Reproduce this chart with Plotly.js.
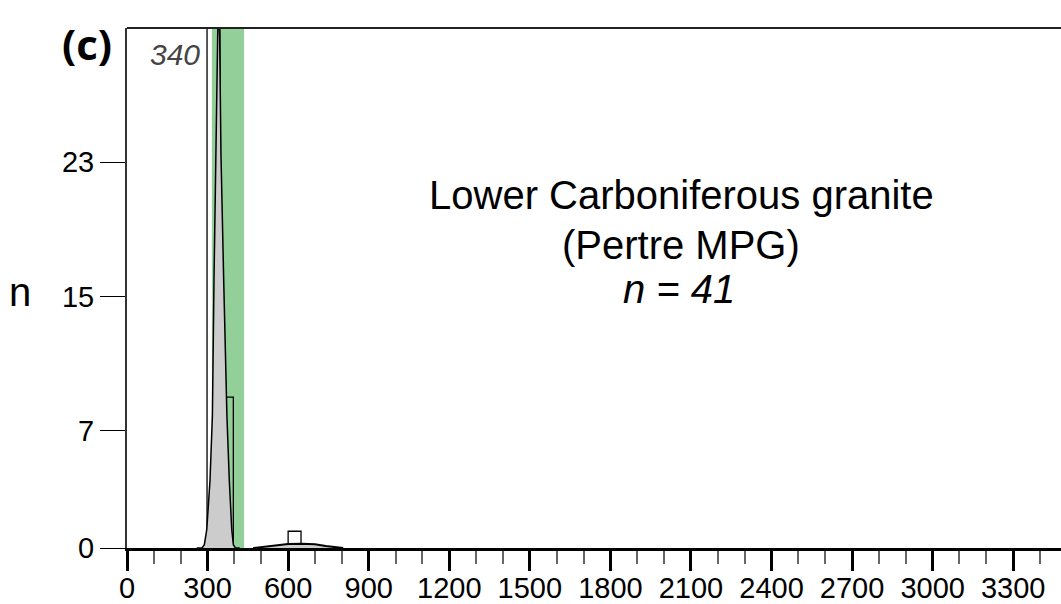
<!DOCTYPE html>
<html>
<head>
<meta charset="utf-8">
<script src="https://cdn.plot.ly/plotly-3.0.1.min.js"></script>
<style>html,body{margin:0;padding:0;background:#fff;}#chart{width:1061px;height:604px;}</style>
</head>
<body>
<div id="chart"></div>
<script>
// Histogram bins (Ma) and counts
const binCenters = [322, 372, 624];
const binCounts = [31, 9, 1];
const binWidth = 48;

// Kernel density curve (main peak)
const kdeX = [260, 280, 288, 297, 309, 318, 324, 331, 336, 340, 345, 350, 360, 372, 381, 390, 396, 403, 420];
const kdeY = [0, 0.02, 0.2, 1.1, 4.0, 7.9, 16, 23.4, 30.5, 33, 30.5, 23.4, 16, 7.9, 4.0, 1.1, 0.2, 0.02, 0];
// Secondary low bump
const kde2X = [470, 490, 520, 560, 600, 650, 700, 740, 780, 805];
const kde2Y = [0, 0.04, 0.1, 0.18, 0.24, 0.26, 0.22, 0.12, 0.04, 0];

// Highlighted age band
const bandStart = 316;
const bandEnd = 436;
const peakLabel = "340";

const xTickVals = [0, 300, 600, 900, 1200, 1500, 1800, 2100, 2400, 2700, 3000, 3300];
const yTickVals = [0, 7, 15, 23];

const W = 1061, H = 604;
const mL = 127, mR = 0, mT = 28, mB = 56;
const pw = W - mL - mR, ph = H - mT - mB;
const px = x => (x - mL) / pw;
const py = y => (H - mB - y) / ph;

const traces = [
  {
    x: kdeX, y: kdeY, type: 'scatter', mode: 'lines',
    fill: 'tozeroy', fillcolor: '#cccccc',
    line: {color: '#000', width: 1.5}, hoverinfo: 'skip', showlegend: false
  },
  {
    x: kde2X, y: kde2Y, type: 'scatter', mode: 'lines',
    fill: 'tozeroy', fillcolor: '#cccccc',
    line: {color: '#000', width: 2}, hoverinfo: 'skip', showlegend: false
  },
  {
    x: binCenters, y: binCounts, type: 'bar', width: binWidth,
    marker: {color: 'rgba(0,0,0,0)', line: {color: '#000', width: 1.3}},
    hoverinfo: 'skip', showlegend: false
  }
];

const layout = {
  width: W, height: H,
  margin: {l: mL, r: mR, t: mT, b: mB, pad: 0},
  paper_bgcolor: '#fff', plot_bgcolor: '#fff',
  font: {family: 'Liberation Sans, Arial, sans-serif', color: '#000'},
  xaxis: {
    range: [0, 3478], showgrid: false, zeroline: false,
    showline: true, linecolor: '#000', linewidth: 2.5,
    tickmode: 'array', tickvals: xTickVals,
    ticks: 'outside', ticklen: 20, tickwidth: 3, tickcolor: '#000',
    ticklabelstandoff: -7,
    tickfont: {size: 29, color: '#000'},
    minor: {dtick: 100, ticks: 'outside', ticklen: 13, tickwidth: 2, tickcolor: '#666', showgrid: false}
  },
  yaxis: {
    range: [0, 31], showgrid: false, zeroline: false,
    showline: true, linecolor: '#333', linewidth: 2,
    tickmode: 'array', tickvals: yTickVals,
    ticks: 'outside', ticklen: 25, tickwidth: 1, tickcolor: '#000',
    tickfont: {size: 29, color: '#000'}
  },
  bargap: 0,
  shapes: [
    {type: 'rect', xref: 'x', yref: 'paper', x0: bandStart, x1: bandEnd, y0: 0, y1: 1,
     fillcolor: 'rgb(146,207,153)', line: {width: 0}, layer: 'below'},
    {type: 'line', xref: 'paper', yref: 'paper', x0: 0, x1: 1, y0: 1, y1: 1,
     line: {color: '#222', width: 2}}
  ],
  annotations: [
    {xref: 'paper', yref: 'paper', x: px(681), y: py(195), text: 'Lower Carboniferous granite',
     showarrow: false, xanchor: 'center', yanchor: 'middle', font: {size: 40, color: '#000'}},
    {xref: 'paper', yref: 'paper', x: px(681), y: py(245), text: '(Pertre MPG)',
     showarrow: false, xanchor: 'center', yanchor: 'middle', font: {size: 40, color: '#000'}},
    {xref: 'paper', yref: 'paper', x: px(679), y: py(289), text: '<i>n = 41</i>',
     showarrow: false, xanchor: 'center', yanchor: 'middle', font: {size: 40, color: '#000'}},
    {xref: 'paper', yref: 'paper', x: px(175), y: py(54), text: '<i>' + peakLabel + '</i>',
     showarrow: false, xanchor: 'center', yanchor: 'middle', font: {size: 30, color: '#444'}},
    {xref: 'paper', yref: 'paper', x: px(87), y: py(43), text: '<b>(c)</b>',
     showarrow: false, xanchor: 'center', yanchor: 'middle', font: {size: 42, color: '#000', family: 'Open Sans, sans-serif'}},
    {xref: 'paper', yref: 'paper', x: px(20), y: py(292), text: 'n',
     showarrow: false, xanchor: 'center', yanchor: 'middle', font: {size: 40, color: '#000'}}
  ]
};

Plotly.newPlot('chart', traces, layout, {displayModeBar: false, staticPlot: true});
</script>
</body>
</html>
